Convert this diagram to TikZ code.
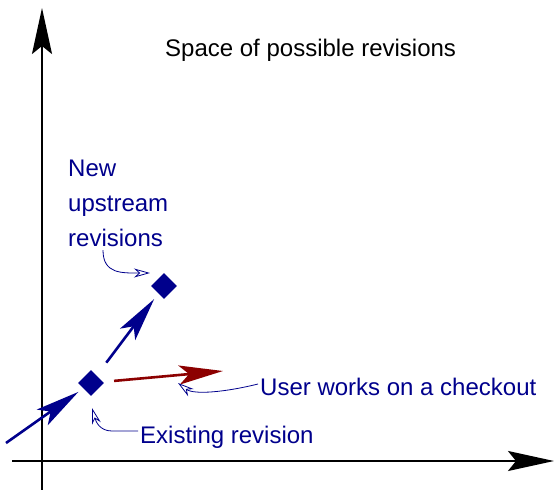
\documentclass[tikz,border=0pt]{standalone}
\usepackage{fontspec}
\setmainfont{Liberation Sans}
\usetikzlibrary{arrows.meta,shapes.geometric,calc}
\definecolor{navy}{RGB}{0,0,140}
\definecolor{darkred}{RGB}{140,0,0}
\begin{document}
\begin{tikzpicture}[x=1pt,y=-1pt,
  lbl/.style={font=\fontsize{24}{35}\selectfont, text=navy, inner sep=0pt},
  ttl/.style={font=\fontsize{24}{35}\selectfont, text=black, inner sep=0pt},
  rev/.style={diamond, fill=navy, draw=none, minimum size=26pt, inner sep=0pt},
  axis/.style={black, line width=2pt, -{Stealth[length=46pt,width=20pt,inset=8pt]}},
  bigarrow/.style={line width=2.6pt, -{Stealth[length=44pt,width=19pt,inset=10pt]}},
  conn/.style={navy, line width=0.8pt, -{Stealth[open,length=16pt,width=9pt,inset=5pt]}}]
\useasboundingbox (0,0) rectangle (555,490);

% axes
\coordinate (yb) at (42,490);
\coordinate (yt) at (42,8);
\coordinate (xl) at (12,461);
\coordinate (xr) at (554,461);
\draw[axis] (yb) -- (yt);
\draw[axis] (xl) -- (xr);

% title
\node[ttl, anchor=base west] (title) at (165,56) {Space of possible revisions};

% revisions
\node[rev] (ex) at (91,383) {};
\node[rev] (nw) at (164,286) {};

% labels
\node[lbl, anchor=north west, align=left] (lblnew) at (68,160) {New\\upstream\\revisions};
\node[lbl, anchor=base west] (user) at (260,395) {User works on a checkout};
\node[lbl, anchor=base west] (exlbl) at (140,443) {Existing revision};

% big arrows
\coordinate (in) at (6,443);
\coordinate (rt) at (223,371);
\draw[bigarrow, navy, shorten >=6pt] (in) -- (ex);
\draw[bigarrow, navy, shorten <=16pt, shorten >=7pt] (ex) -- (nw);
\draw[bigarrow, darkred, shorten <=11pt] (ex) -- (rt);

% label connectors
\coordinate (t1) at (150,273);
\coordinate (t2) at (178,383);
\coordinate (t3) at (92,408);
\draw[conn] ($(lblnew.south west)+(35,3)$) .. controls +(0,24) and +(-28,0) .. (t1);
\draw[conn] ($(user.base west)+(-2,-11)$) .. controls +(-32,8) and +(16,12) .. (t2);
\draw[conn] ($(exlbl.base west)+(-2,-12)$) -- ++(-26,0) .. controls +(-12,0) and +(4,14) .. (t3);
\end{tikzpicture}
\end{document}
